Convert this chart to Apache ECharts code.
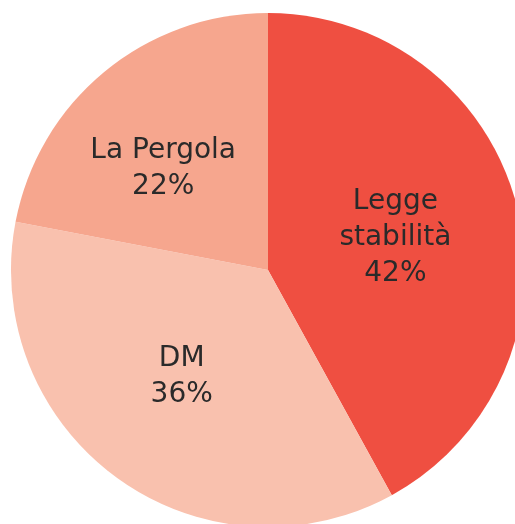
<!DOCTYPE html>
<html><head><meta charset="utf-8">
<script src="https://cdn.jsdelivr.net/npm/echarts@6/dist/echarts.min.js"></script>
<style>html,body{margin:0;padding:0;background:#fff}#c{width:515px;height:524px}</style>
</head><body><div id="c"></div>
<script>
const categories = ['Legge\nstabilità', 'DM', 'La Pergola'];
const values = [42, 36, 22];
const colors = ['#ef4f41', '#f9c1ae', '#f6a68e'];
const labelPads = [[0,0,18,0],[0,18,0,0],[0,42,12,0]];

const chart = echarts.init(document.getElementById('c'), null, {renderer:'canvas'});
chart.setOption({
  animation: false,
  series: [{
    type: 'pie',
    center: [268, 270],
    radius: [0, 257],
    startAngle: 90,
    clockwise: true,
    data: categories.map((n, i) => ({
      name: n, value: values[i],
      itemStyle: {color: colors[i]},
      label: {padding: labelPads[i]}
    })),
    label: {
      show: true,
      position: 'inside',
      formatter: p => p.name + '\n' + p.value + '%',
      color: '#2a2a2a',
      fontSize: 28,
      lineHeight: 36,
      fontFamily: 'DejaVu Sans',
      fontWeight: 'normal',
      align: 'center'
    },
    labelLine: {show: false},
    emphasis: {disabled: true}
  }]
});
</script></body></html>
